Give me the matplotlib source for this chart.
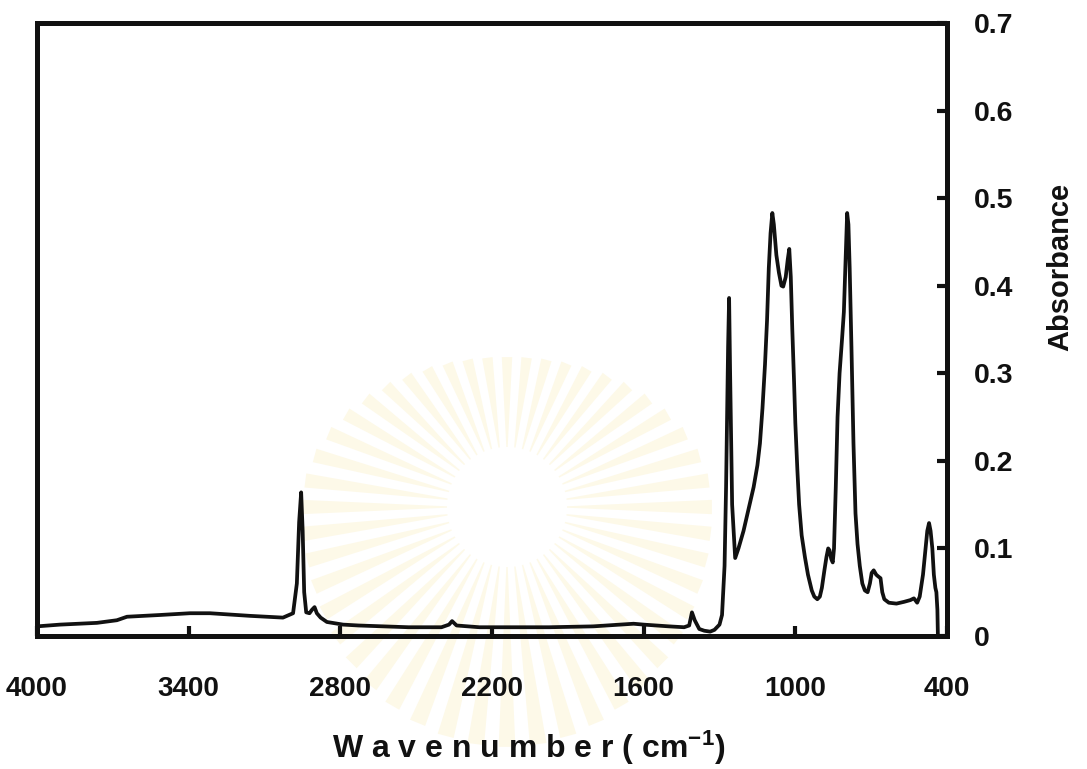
import numpy as np
import matplotlib.pyplot as plt
from matplotlib.patches import Polygon

# FTIR spectrum (wavenumber in cm-1, absorbance)
wavenumber = [4000, 3909, 3763, 3684, 3644, 3513, 3395, 3316, 3157, 3027, 2987,
              2972, 2963, 2955, 2949, 2943, 2935, 2922, 2912, 2902, 2893, 2878,
              2853, 2789, 2728, 2530, 2400, 2370, 2358, 2340, 2250, 1974, 1800, 1640,
              1600, 1500, 1440, 1420, 1409, 1398, 1380, 1360, 1337, 1320, 1300,
              1290, 1280, 1274, 1266, 1262, 1258, 1250, 1238, 1225, 1205, 1185, 1165,
              1150, 1140, 1130, 1120, 1112, 1105, 1098, 1091, 1085, 1075, 1065, 1055,
              1048, 1038, 1030, 1024, 1018, 1012, 1005, 1000, 992, 985, 975, 962, 950,
              935, 925, 913, 903, 895, 885, 877, 870, 865, 858, 852, 847, 840, 833, 825,
              815, 808, 800, 795, 790, 785, 778, 770, 762, 754, 745, 735, 725, 714, 705,
              698, 690, 680, 672, 663, 656, 648, 630, 600, 570, 545, 531, 518, 508, 495,
              485, 478, 471, 465, 458, 452, 446, 442, 438, 436]
absorbance = [0.011, 0.013, 0.015, 0.018, 0.022, 0.024, 0.026, 0.026, 0.023, 0.021, 0.026,
              0.06, 0.13, 0.164, 0.12, 0.05, 0.027, 0.026, 0.030, 0.033, 0.026, 0.021,
              0.016, 0.013, 0.012, 0.010, 0.010, 0.013, 0.017, 0.012, 0.010, 0.010, 0.011, 0.014,
              0.013, 0.011, 0.010, 0.012, 0.027, 0.018, 0.008, 0.006, 0.005, 0.007, 0.013,
              0.024, 0.08, 0.17, 0.33, 0.386, 0.30, 0.15, 0.089, 0.10, 0.12, 0.145, 0.17,
              0.195, 0.22, 0.26, 0.31, 0.36, 0.42, 0.46, 0.483, 0.47, 0.435, 0.415, 0.40,
              0.399, 0.41, 0.43, 0.442, 0.41, 0.35, 0.29, 0.243, 0.19, 0.15, 0.115, 0.09, 0.07,
              0.052, 0.045, 0.042, 0.045, 0.055, 0.075, 0.09, 0.10, 0.098, 0.088, 0.084, 0.10, 0.17, 0.25, 0.30,
              0.34, 0.37, 0.44, 0.483, 0.47, 0.42, 0.33, 0.22, 0.14, 0.105, 0.08, 0.06, 0.052, 0.050, 0.06,
              0.072, 0.075, 0.07, 0.068, 0.066, 0.05, 0.042, 0.038, 0.037, 0.039, 0.041, 0.043, 0.038, 0.045, 0.07,
              0.10, 0.12, 0.129, 0.12, 0.10, 0.07, 0.055, 0.05, 0.03, 0.0]

xticks = [4000, 3400, 2800, 2200, 1600, 1000, 400]
yticks = [0, 0.1, 0.2, 0.3, 0.4, 0.5, 0.6, 0.7]
ylabels = ['0', '0.1', '0.2', '0.3', '0.4', '0.5', '0.6', '0.7']

plt.rcParams['mathtext.fontset'] = 'custom'
plt.rcParams['mathtext.rm'] = 'Liberation Sans:bold'
plt.rcParams['mathtext.it'] = 'Liberation Sans:bold'
plt.rcParams['mathtext.bf'] = 'Liberation Sans:bold'

W, H = 1087, 769
fig = plt.figure(figsize=(W/100, H/100), dpi=100)

# faint scanned watermark (sunburst) behind the plot, pixel coords, y up
wm = fig.add_axes([0, 0, 1, 1], zorder=0)
wm.set_xlim(0, W)
wm.set_ylim(0, H)
wm.axis('off')
cx, cy = 507, H - 507
for a in np.arange(0, 360, 7.5):
    t = np.radians(a)
    ry = 150 if np.sin(t) > 0 else 240
    r = 1 / np.sqrt((np.cos(t)/205)**2 + (np.sin(t)/ry)**2)
    dt = np.radians(2.0)
    pts = [(cx + 60*np.cos(t - dt/3), cy + 60*np.sin(t - dt/3)),
           (cx + r*np.cos(t - dt), cy + r*np.sin(t - dt)),
           (cx + r*np.cos(t + dt), cy + r*np.sin(t + dt)),
           (cx + 60*np.cos(t + dt/3), cy + 60*np.sin(t + dt/3))]
    wm.add_patch(Polygon(pts, closed=True, color='#fbf0c6', alpha=0.4, lw=0))

ax = fig.add_axes([37/W, 1-636/H, 910/W, 613/H], zorder=1)
ax.patch.set_alpha(0)
ax.plot(wavenumber, absorbance, color='#111111', lw=2.7, solid_joinstyle='round')

ax.set_xlim(4000, 400)
ax.set_ylim(0, 0.7)
ax.set_xticks(xticks)
ax.set_xticklabels([str(t) for t in xticks], family='Liberation Sans',
                   fontweight='bold', fontsize=20)
ax.set_yticks(yticks)
ax.set_yticklabels(ylabels, family='Liberation Sans', fontweight='bold', fontsize=20.5)
ax.yaxis.tick_right()
ax.tick_params(axis='x', direction='in', length=7, width=3, pad=29, colors='#111111')
ax.tick_params(axis='y', direction='in', length=7, width=3, pad=19, colors='#111111')
for s in ax.spines.values():
    s.set_linewidth(3.6)
    s.set_color('#111111')

# axis titles placed in figure pixels
fig.text(1060/W, 1 - 267/H, 'Absorbance', family='Liberation Sans', fontweight='bold',
         fontsize=21, rotation=90, ha='center', va='center', color='#111111')
fig.text(529/W, 1 - 758/H, 'W a v e n u m b e r ( cm$^{-1}$)', family=['Liberation Sans', 'DejaVu Sans'],
         fontweight='bold', fontsize=23, ha='center', va='baseline', color='#111111')

plt.savefig('out.png', dpi=100)
